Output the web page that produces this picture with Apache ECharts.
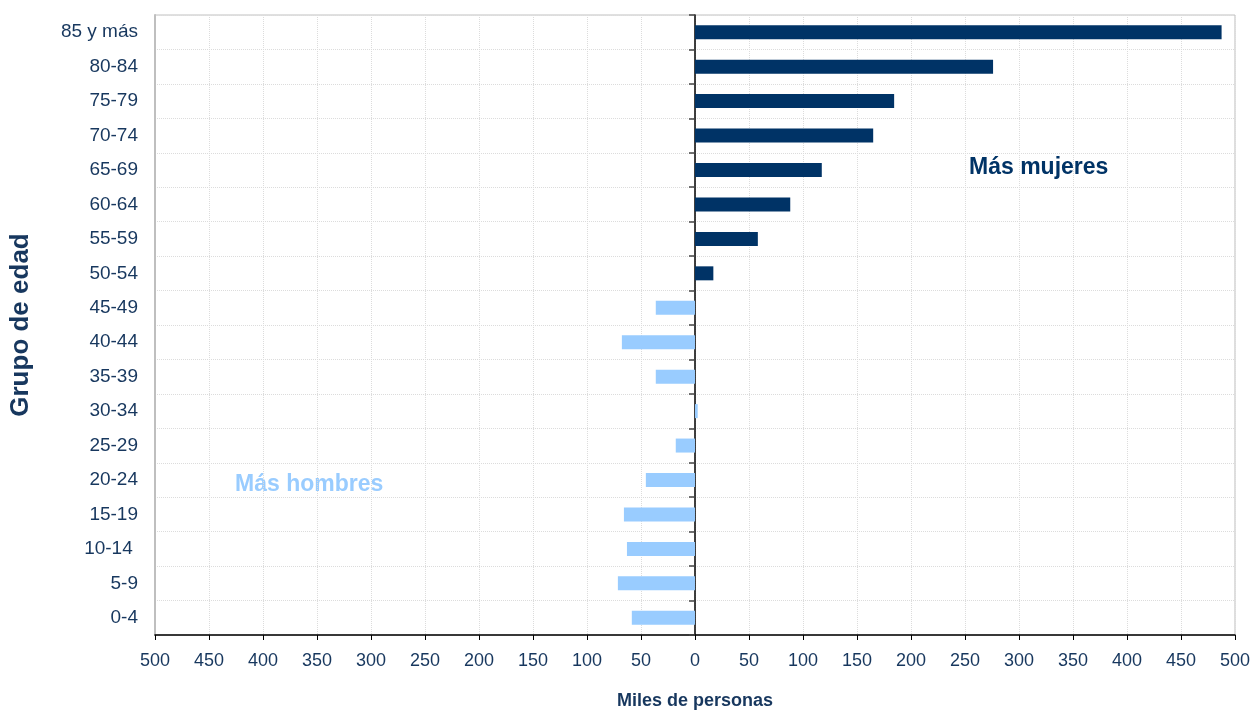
<!DOCTYPE html>
<html>
<head>
<meta charset="utf-8">
<script src="https://cdn.jsdelivr.net/npm/echarts@6/dist/echarts.min.js"></script>
<style>
html,body{margin:0;padding:0;background:#fff;}
#chart{width:1253px;height:715px;}
</style>
</head>
<body>
<div id="chart"></div>
<script>
var categories = ['0-4','5-9','10-14 ','15-19','20-24','25-29','30-34','35-39','40-44','45-49','50-54','55-59','60-64','65-69','70-74','75-79','80-84','85 y más'];
var hombres = [-58.5,-71.4,-63,-65.8,-45.5,-17.8,2.5,-36.3,-67.7,-36.3,null,null,null,null,null,null,null,null];
var mujeres = [null,null,null,null,null,null,null,null,null,null,17,58.2,88.2,117.4,165,184.4,276,487.6];
var xTicks = {min:-500, max:500, interval:50};

var navy = '#003366';
var light = '#99CCFF';
var textCol = '#17375E';
var font = "'Liberation Sans', Arial, sans-serif";

var chart = echarts.init(document.getElementById('chart'));
chart.setOption({
  animation:false,
  backgroundColor:'#fff',
  grid:{left:153,right:16,top:15,bottom:64,show:true,borderColor:'#c0c0c0',borderWidth:1,containLabel:false},
  xAxis:{
    type:'value', min:xTicks.min, max:xTicks.max, interval:xTicks.interval,
    name:'Miles de personas', nameLocation:'middle', nameGap:57,
    nameTextStyle:{color:textCol,fontSize:18,fontWeight:'bold',fontFamily:font},
    axisLine:{show:true,onZero:false,lineStyle:{color:'#000',width:1.5}},
    axisTick:{show:true,length:5,lineStyle:{color:'#000'}},
    axisLabel:{color:textCol,fontSize:18,fontFamily:font,margin:17,formatter:function(v){return Math.abs(v);}},
    splitLine:{show:true,lineStyle:{color:'#dcdcdc',type:'dotted',width:1}}
  },
  yAxis:[{
    type:'category', data:categories, position:'left',
    name:'Grupo de edad', nameLocation:'middle', nameGap:121,
    nameTextStyle:{color:textCol,fontSize:26,fontWeight:'bold',fontFamily:font},
    axisLine:{show:true,onZero:false,lineStyle:{color:'#bfbfbf',width:2}},
    axisTick:{show:false},
    axisLabel:{color:textCol,fontSize:19,fontFamily:font,margin:17},
    splitLine:{show:true,lineStyle:{color:'#dcdcdc',type:'dotted',width:1}}
  },{
    type:'category', data:categories, position:'left',
    axisLine:{show:true,onZero:true,onZeroAxisIndex:0,lineStyle:{color:'#000',width:1.5}},
    axisTick:{show:true,length:6,lineStyle:{color:'#444',width:1.5}},
    axisLabel:{show:false},
    splitLine:{show:false}
  }],
  series:[{
    type:'bar', name:'Hombres', data:hombres, yAxisIndex:0, barWidth:14, barGap:'-100%',
    itemStyle:{color:light}
  },{
    type:'bar', name:'Mujeres', data:mujeres, yAxisIndex:0, barWidth:14, barGap:'-100%',
    itemStyle:{color:navy}
  }],
  graphic:[{
    type:'text', left:969, top:156,
    style:{text:'Más mujeres',fill:navy,fontSize:23,fontWeight:'bold',fontFamily:font}
  },{
    type:'text', left:235, top:473,
    style:{text:'Más hombres',fill:light,fontSize:23,fontWeight:'bold',fontFamily:font}
  }]
});
</script>
</body>
</html>
